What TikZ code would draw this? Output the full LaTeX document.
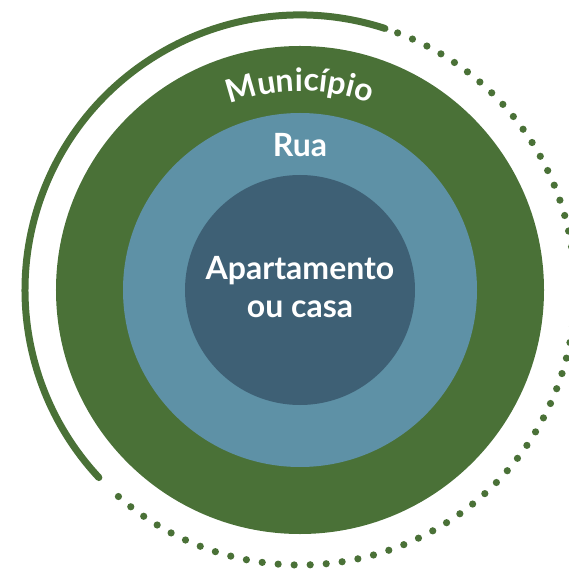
\documentclass[tikz,border=0pt]{standalone}
\usepackage{fontspec}
\setmainfont{Lato}
\usetikzlibrary{decorations.text}
\definecolor{municipio}{HTML}{4A7137}
\definecolor{rua}{HTML}{5E91A6}
\definecolor{casa}{HTML}{3E6075}
\newcommand{\ringfont}{\fontsize{32}{38}\selectfont\bfseries}
\tikzset{
	ringlabel/.style={text=white, font=\ringfont, inner sep=0pt, anchor=base},
	rim/.style={draw=municipio, line width=7pt, line cap=round}
}

\begin{document}
\begin{tikzpicture}[x=1pt,y=1pt]

	\useasboundingbox (-300,-282) rectangle (268,290);
	\coordinate (center) at (0,0);

	%Rings
	\fill[municipio] (center) circle [radius=244];
	\fill[rua] (center) circle [radius=177];
	\fill[casa] (center) circle [radius=115];

	%Outer rim
	\draw[rim] (72:275) arc (72:223:275);
	\foreach \i in {0,...,60}
		\fill[municipio] (69.2-\i*3.342:275) circle [radius=3.6];

	%Labels
	\path[decorate, decoration={text along path, text align=center,
		text={|\color{white}\ringfont|Município}}] (135:199) arc (135:45:199);
	\node[ringlabel] (rua) at (0,133.5) {Rua};
	\node[ringlabel] (casa1) at (0,10) {Apartamento};
	\node[ringlabel] (casa2) at (0,-28) {ou casa};

\end{tikzpicture}
\end{document}
